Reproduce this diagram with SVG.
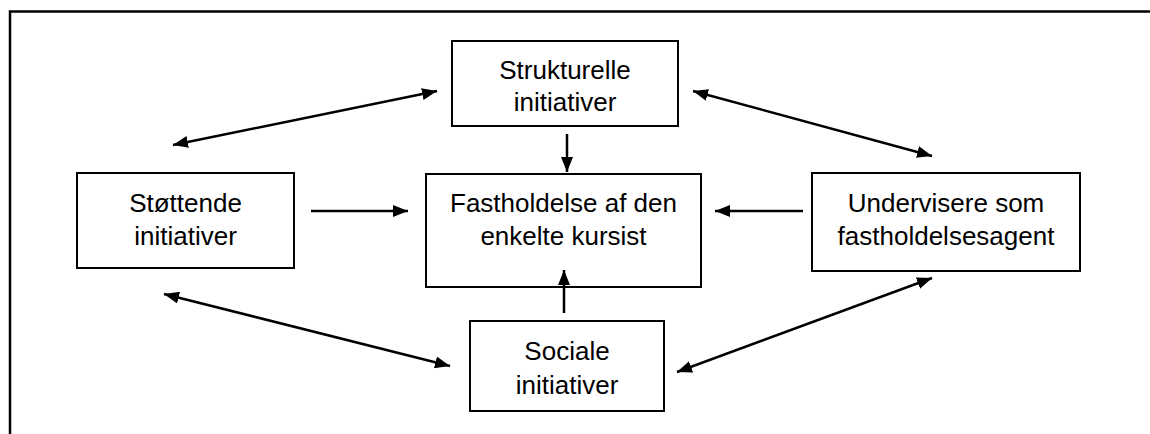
<svg xmlns="http://www.w3.org/2000/svg" width="1150" height="434" viewBox="0 0 1150 434">
<style>
.box{fill:#fff;stroke:#000;stroke-width:2}
.lbl{font-family:"Liberation Sans",Arial,sans-serif;font-size:26px;fill:#000;text-anchor:middle}
.con{stroke:#000;stroke-width:2.5;fill:none}
</style>
<defs>
<marker id="ah" viewBox="0 0 15 12" refX="15" refY="6" markerWidth="15" markerHeight="12" markerUnits="userSpaceOnUse" orient="auto-start-reverse">
<path d="M0,0 L15,6 L0,12 z" fill="#000"/>
</marker>
</defs>
<rect width="1150" height="434" fill="#fff"/>
<path d="M10,434 V11.5 H1150" fill="none" stroke="#000" stroke-width="2.5"/>
<g id="strukturelle">
<rect class="box" x="452" y="41" width="226" height="85"/>
<text class="lbl" x="565" y="79">Strukturelle</text>
<text class="lbl" x="565" y="111">initiativer</text>
</g>
<g id="stottende">
<rect class="box" x="77" y="173" width="217" height="95"/>
<text class="lbl" x="185.5" y="212">Støttende</text>
<text class="lbl" x="185.5" y="245">initiativer</text>
</g>
<g id="fastholdelse">
<rect class="box" x="426" y="174" width="275" height="113"/>
<text class="lbl" x="563.5" y="212">Fastholdelse af den</text>
<text class="lbl" x="563.5" y="245">enkelte kursist</text>
</g>
<g id="undervisere">
<rect class="box" x="812" y="173" width="268" height="98"/>
<text class="lbl" x="946" y="212">Undervisere som</text>
<text class="lbl" x="946" y="245">fastholdelsesagent</text>
</g>
<g id="sociale">
<rect class="box" x="470" y="321" width="194" height="90"/>
<text class="lbl" x="567" y="360">Sociale</text>
<text class="lbl" x="567" y="394">initiativer</text>
</g>
<g id="connectors">
<line class="con" x1="567" y1="134" x2="567" y2="172" marker-end="url(#ah)"/>
<line class="con" x1="564" y1="313" x2="564" y2="270" marker-end="url(#ah)"/>
<line class="con" x1="311" y1="211" x2="408" y2="211" marker-end="url(#ah)"/>
<line class="con" x1="803" y1="211" x2="715" y2="211" marker-end="url(#ah)"/>
<line class="con" x1="173" y1="145" x2="437" y2="91" marker-start="url(#ah)" marker-end="url(#ah)"/>
<line class="con" x1="693" y1="91" x2="932" y2="156" marker-start="url(#ah)" marker-end="url(#ah)"/>
<line class="con" x1="164" y1="294" x2="450" y2="366" marker-start="url(#ah)" marker-end="url(#ah)"/>
<line class="con" x1="677" y1="372" x2="932" y2="278" marker-start="url(#ah)" marker-end="url(#ah)"/>
</g>
</svg>
